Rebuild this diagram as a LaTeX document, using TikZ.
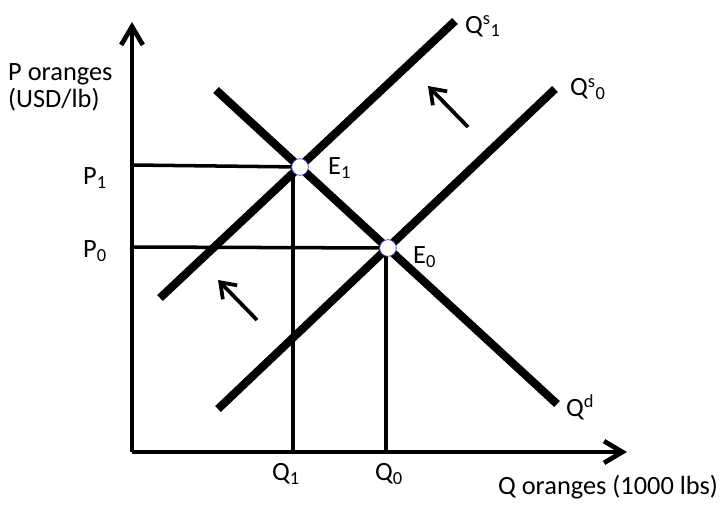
\documentclass[tikz,border=0pt]{standalone}
\usepackage{fontspec}
\setmainfont{Carlito}
\usetikzlibrary{arrows.meta}
\begin{document}
\begin{tikzpicture}[x=.3mm, y=-.3mm, font=\fontsize{22.5}{23}\selectfont, line join=round,
	mkline/.style={line width=7pt},
	guide/.style={line width=3pt},
	axisline/.style={line width=4pt, -{Straight Barb[length=5.5mm,width=6.5mm]}},
	shiftarrow/.style={line width=3.2pt, -{Straight Barb[length=4.2mm,width=6mm]}},
	eq/.style={circle, draw=gray!50!blue, fill=white, inner sep=0pt, minimum size=5mm, line width=.6pt}]
	\useasboundingbox (0,0) rectangle (723,518);
	% axes
	\coordinate (O) at (132,452);
	\coordinate (ytip) at (132,22);
	\coordinate (xtip) at (627,452);
	\draw[axisline] (O)--(ytip);
	\draw[axisline] (O)--(xtip);
	% equilibria and curve ends
	\coordinate (E1) at (300,167);
	\coordinate (E0) at (388,248);
	\coordinate (d0) at (216,90); \coordinate (d1) at (557,404);
	\coordinate (s10) at (160,298); \coordinate (s11) at (455,21);
	\coordinate (s00) at (218,409); \coordinate (s01) at (555,89);
	% guide lines
	\coordinate (p1) at (132,165); \coordinate (p0) at (132,247);
	\coordinate (q1) at (293,452); \coordinate (q0) at (386,452);
	\draw[guide] (p1)--(E1) (p0)--(E0);
	\draw[guide] (q1)--(293,167) (q0)--(386,248);
	% curves
	\draw[mkline] (d0)--(d1);
	\draw[mkline] (s10)--(s11);
	\draw[mkline] (s00)--(s01);
	\node[eq] (e1) at (E1) {};
	\node[eq] (e0) at (E0) {};
	% shift arrows
	\coordinate (a1) at (257,320); \coordinate (b1) at (218,280);
	\coordinate (a2) at (468,127); \coordinate (b2) at (428,86);
	\draw[shiftarrow] (a1)--(b1);
	\draw[shiftarrow] (a2)--(b2);
	% labels
	\node[anchor=west, align=left, inner sep=0pt] (ylab) at (8,87) {P oranges\\(USD/lb)};
	\node (P1) at (95,178) {P\textsubscript{1}};
	\node (P0) at (95,251) {P\textsubscript{0}};
	\node[anchor=west] (E1lab) at (324,168) {E\textsubscript{1}};
	\node[anchor=west] (E0lab) at (409,257) {E\textsubscript{0}};
	\node (Q1) at (286,474) {Q\textsubscript{1}};
	\node (Q0) at (389,474) {Q\textsubscript{0}};
	\node (xlab) at (608,487) {Q oranges (1000 lbs)};
	\node[anchor=west] (Qd) at (562,407) {Q\textsuperscript{d}};
	\node[anchor=west] (Qs1) at (461,26) {Q\textsuperscript{s}\textsubscript{1}};
	\node[anchor=west] (Qs0) at (566,89) {Q\textsuperscript{s}\textsubscript{0}};
\end{tikzpicture}
\end{document}
